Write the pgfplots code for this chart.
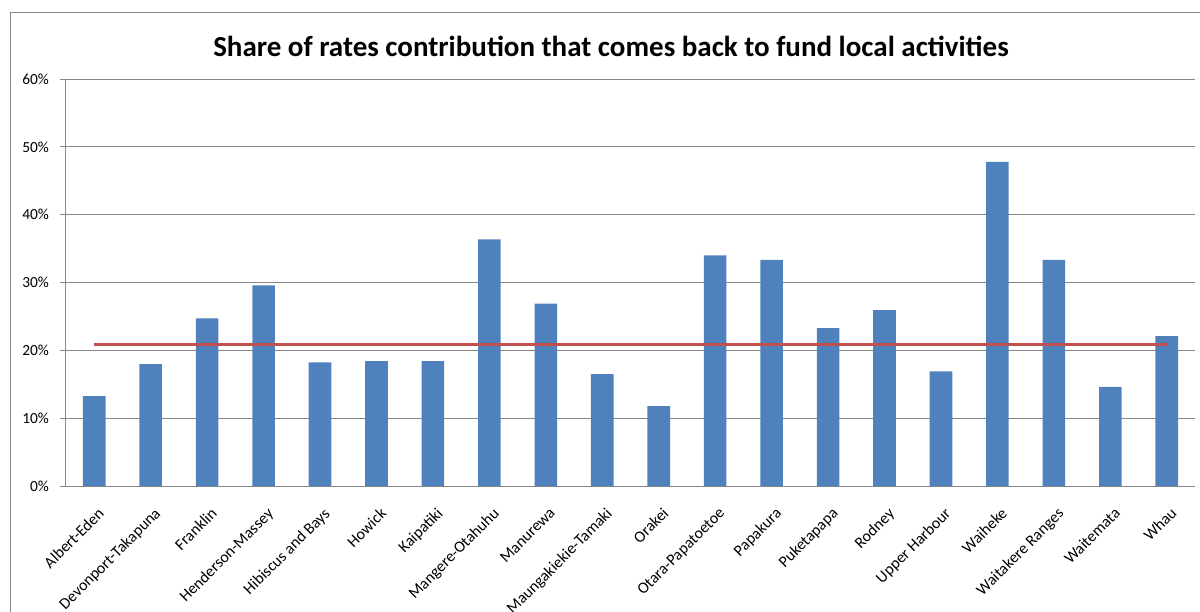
\documentclass[border=0pt]{standalone}
\usepackage{fontspec}
\setmainfont{Carlito}
\usepackage{pgfplots}
\pgfplotsset{compat=1.18}
\definecolor{barblue}{HTML}{4F81BD}
\definecolor{avgred}{HTML}{C0504D}
\definecolor{gridgray}{HTML}{868686}
\begin{document}
\begin{tikzpicture}
\useasboundingbox (0,0) rectangle (600pt,305.5pt);
\draw[gridgray, line width=0.5pt] (5.35pt,-2pt) -- (5.35pt,299.2pt) -- (602pt,299.2pt);
\node[font=\fontsize{14.5}{16}\selectfont\bfseries] at (305.5pt,282.5pt) {Share of rates contribution that comes back to fund local activities};
\begin{axis}[
  at={(33pt,62.5pt)}, anchor=south west,
  scale only axis, width=564.5pt, height=203.5pt,
  xmin=-0.5, xmax=19.5, ymin=0, ymax=60,
  axis x line*=bottom, axis y line*=left,
  axis line style={gridgray, line width=0.5pt},
  ytick={0,10,...,60},
  yticklabel={\pgfmathprintnumber{\tick}\%},
  /pgf/number format/assume math mode=true,
  ymajorgrids, major grid style={gridgray, line width=0.5pt},
  tick align=outside,
  ytick style={gridgray, line width=0.5pt},
  major tick length=3pt,
  xtick={0,...,19},
  x tick style={draw=none},
  minor xtick={-0.5,0.5,...,19.5},
  minor x tick style={gridgray, line width=0.5pt},
  minor tick length=3pt,
  xticklabels={Albert-Eden,Devonport-Takapuna,Franklin,Henderson-Massey,Hibiscus and Bays,Howick,Kaipatiki,Mangere-Otahuhu,Manurewa,Maungakiekie-Tamaki,Orakei,Otara-Papatoetoe,Papakura,Puketapapa,Rodney,Upper Harbour,Waiheke,Waitakere Ranges,Waitemata,Whau},
  xticklabel style={rotate=45, anchor=north east, font=\fontsize{8}{9}\selectfont, inner sep=1pt, xshift=-3pt, yshift=-5pt},
  yticklabel style={font=\fontsize{7.7}{9}\selectfont, xshift=-2pt},
  clip=false,
]
\addplot[ybar, bar width=0.4, fill=barblue, draw=none] coordinates {
(0,13.24) (1,17.96) (2,24.70) (3,29.58) (4,18.21) (5,18.41) (6,18.41) (7,36.37) (8,26.87) (9,16.49)
(10,11.76) (11,34.00) (12,33.32) (13,23.28) (14,25.94) (15,16.88) (16,47.79) (17,33.32) (18,14.62) (19,22.10)
};
\addplot[avgred, line width=1.5pt, mark=none] coordinates {(0,20.87) (19,20.87)};
\end{axis}
\end{tikzpicture}
\end{document}
